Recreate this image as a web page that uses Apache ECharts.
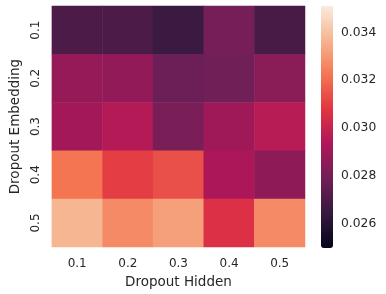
<!DOCTYPE html>
<html><head><meta charset="utf-8">
<script src="https://cdn.jsdelivr.net/npm/echarts@6/dist/echarts.min.js"></script>
<style>html,body{margin:0;padding:0;background:#fff}#c{width:386px;height:294px}</style>
</head><body><div id="c"></div>
<script>
const hiddenLabels = ['0.1','0.2','0.3','0.4','0.5'];
const embeddingLabels = ['0.1','0.2','0.3','0.4','0.5'];
// rows: dropout embedding 0.1..0.5 ; columns: dropout hidden 0.1..0.5
const row01 = [0.0270, 0.0270, 0.0266, 0.0280, 0.0269];
const row02 = [0.0288, 0.0287, 0.0278, 0.0279, 0.0285];
const row03 = [0.0291, 0.0295, 0.0281, 0.0290, 0.0296];
const row04 = [0.0322, 0.0310, 0.0314, 0.0293, 0.0286];
const row05 = [0.0337, 0.0327, 0.0332, 0.0306, 0.0327];
const colorbarTicks = [0.026, 0.028, 0.030, 0.032, 0.034];
const vMin = 0.025, vMax = 0.0351;
const rocket = ['#03051a','#35193e','#701f57','#ad1759','#e13342','#f37651','#f6b48f','#faebdd'];

const rows = [row01,row02,row03,row04,row05];
const data = [];
rows.forEach((r,i)=>r.forEach((v,j)=>data.push([j,i,v])));

const font = 'DejaVu Sans';
const txt = '#262626';
const chart = echarts.init(document.getElementById('c'));
chart.setOption({
  animation:false,
  textStyle:{fontFamily:font},
  grid:[
    {left:45, right:81, top:6, bottom:46},
    {left:321, width:12, top:6, bottom:46}
  ],
  xAxis:[
    {type:'category', gridIndex:0, data:hiddenLabels, name:'Dropout Hidden', nameLocation:'middle', nameGap:25.5,
     nameTextStyle:{fontSize:13.5,color:txt,fontFamily:font},
     axisLine:{show:false}, axisTick:{show:false}, splitLine:{show:false},
     axisLabel:{fontSize:12,color:txt,margin:11,fontFamily:font}},
    {type:'value', gridIndex:1, show:false, min:0, max:1}
  ],
  yAxis:[
    {type:'category', gridIndex:0, data:embeddingLabels, inverse:true, name:'Dropout Embedding', nameLocation:'middle', nameGap:27,
     nameTextStyle:{fontSize:13.5,color:txt,fontFamily:font},
     axisLine:{show:false}, axisTick:{show:false}, splitLine:{show:false},
     axisLabel:{fontSize:12,color:txt,margin:16,rotate:90,align:'center',verticalAlign:'middle',fontFamily:font}},
    {type:'value', gridIndex:1, position:'right', min:vMin, max:vMax,
     axisLine:{show:false}, splitLine:{show:false},
     axisTick:{show:true, length:5, lineStyle:{color:'#262626',width:1}, customValues:colorbarTicks},
     axisLabel:{show:true, fontSize:12.3, color:txt, margin:8, fontFamily:font, customValues:colorbarTicks,
       formatter:v=>v.toFixed(3)}}
  ],
  visualMap:{
    type:'continuous', seriesIndex:0, min:vMin, max:vMax, calculable:false, hoverLink:false,
    orient:'vertical', left:321, top:6, itemWidth:12, itemHeight:242, padding:0,
    text:null, showLabel:false, inRange:{color:rocket}
  },
  series:[{
    type:'heatmap', xAxisIndex:0, yAxisIndex:0, data:data,
    itemStyle:{borderWidth:0}, emphasis:{disabled:true}
  }]
});
</script></body></html>
